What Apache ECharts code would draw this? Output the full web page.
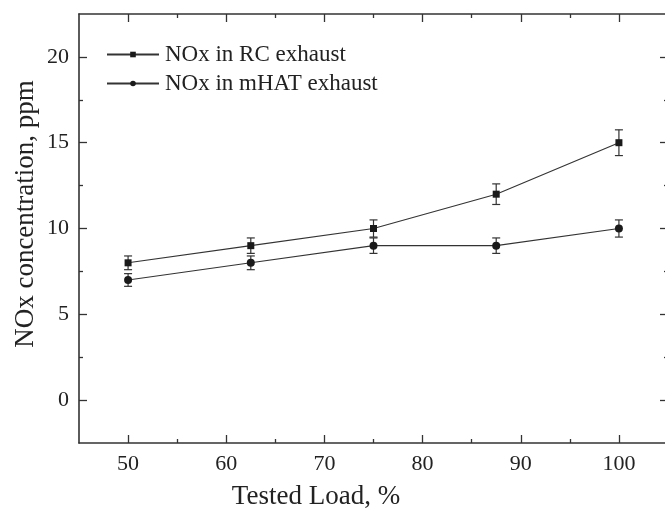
<!DOCTYPE html>
<html>
<head>
<meta charset="utf-8">
<script src="https://cdn.jsdelivr.net/npm/echarts@6/dist/echarts.min.js"></script>
<style>html,body{margin:0;padding:0;background:#fff;overflow:hidden;width:665px;height:518px}#c{width:670px;height:518px}</style>
</head>
<body>
<div id="c"></div>
<script>
const loads = [50, 62.5, 75, 87.5, 100];
const rcValues = [8, 9, 10, 12, 15];
const rcErrors = [0.4, 0.45, 0.5, 0.6, 0.75];
const mhatValues = [7, 8, 9, 9, 10];
const mhatErrors = [0.37, 0.4, 0.45, 0.45, 0.5];
const xTicks = [50, 60, 70, 80, 90, 100];
const xMinorTicks = [55, 65, 75, 85, 95];
const yTicks = [0, 5, 10, 15, 20];
const yMinorTicks = [2.5, 7.5, 12.5, 17.5];
const seriesNames = ['NOx in RC exhaust', 'NOx in mHAT exhaust'];
const xTitle = 'Tested Load, %';
const yTitle = 'NOx concentration, ppm';

const FONT = "'Liberation Serif', 'Times New Roman', serif";
const INK = '#222';
const AXLINE = { color: '#333', width: 1.6 };

function xAxisDef(pos, ticks, major, showLine, showLabels) {
  return {
    type: 'value', position: pos, min: 45, max: 105,
    axisLine: { show: showLine, onZero: false, lineStyle: AXLINE },
    axisTick: { show: true, inside: true, length: major ? 8 : 4, customValues: ticks, lineStyle: { color: '#333', width: 1.3 } },
    axisLabel: showLabels ? { show: true, customValues: ticks, fontFamily: FONT, fontSize: 22, color: INK, margin: 10 } : { show: false },
    splitLine: { show: false }
  };
}
function yAxisDef(pos, ticks, major, showLine, showLabels) {
  return {
    type: 'value', position: pos, min: -2.5, max: 22.5,
    axisLine: { show: showLine, onZero: false, lineStyle: AXLINE },
    axisTick: { show: true, inside: true, length: major ? 8 : 4, customValues: ticks, lineStyle: { color: '#333', width: 1.3 } },
    axisLabel: showLabels ? { show: true, customValues: ticks, fontFamily: FONT, fontSize: 22, color: INK, margin: 10 } : { show: false },
    splitLine: { show: false }
  };
}

function errData(vals, errs) {
  return loads.map((x, i) => [x, vals[i] - errs[i], vals[i] + errs[i]]);
}
function renderErr(params, api) {
  const x = api.value(0);
  const lo = api.coord([x, api.value(1)]);
  const hi = api.coord([x, api.value(2)]);
  const w = 4;
  const st = { stroke: '#333', lineWidth: 1.2 };
  return {
    type: 'group',
    children: [
      { type: 'line', shape: { x1: lo[0], y1: lo[1], x2: hi[0], y2: hi[1] }, style: st },
      { type: 'line', shape: { x1: lo[0] - w, y1: lo[1], x2: lo[0] + w, y2: lo[1] }, style: st },
      { type: 'line', shape: { x1: hi[0] - w, y1: hi[1], x2: hi[0] + w, y2: hi[1] }, style: st }
    ]
  };
}

const chart = echarts.init(document.getElementById('c'), null, { renderer: 'canvas' });
chart.setOption({
  backgroundColor: '#fff',
  animation: false,
  grid: { left: 79, right: 2, top: 14, bottom: 75, containLabel: false },
  legend: {
    data: seriesNames,
    orient: 'vertical',
    left: 101, top: 38,
    itemWidth: 52, itemHeight: 7, itemGap: 6,
    textStyle: { fontFamily: FONT, fontSize: 23, color: INK, padding: [0, 0, 0, 1] }
  },
  graphic: [
    {
      type: 'text', x: 316, y: 497, silent: true,
      style: { text: xTitle, font: "27px " + FONT, fill: INK, align: 'center', verticalAlign: 'middle' }
    },
    {
      type: 'text', x: 26, y: 214, rotation: Math.PI / 2, silent: true,
      style: { text: yTitle, font: "27px " + FONT, fill: INK, align: 'center', verticalAlign: 'middle' }
    }
  ],
  xAxis: [
    xAxisDef('bottom', xTicks, true, true, true),
    xAxisDef('bottom', xMinorTicks, false, false, false),
    xAxisDef('top', xTicks, true, true, false),
    xAxisDef('top', xMinorTicks, false, false, false)
  ],
  yAxis: [
    yAxisDef('left', yTicks, true, true, true),
    yAxisDef('left', yMinorTicks, false, false, false),
    yAxisDef('right', yTicks, true, true, false),
    yAxisDef('right', yMinorTicks, false, false, false)
  ],
  series: [
    {
      name: seriesNames[0], type: 'line', xAxisIndex: 0, yAxisIndex: 0,
      data: loads.map((x, i) => [x, rcValues[i]]),
      symbol: 'rect', symbolSize: 7, z: 5,
      lineStyle: { color: '#333', width: 1.1 },
      itemStyle: { color: '#1a1a1a' }
    },
    {
      name: seriesNames[1], type: 'line', xAxisIndex: 0, yAxisIndex: 0,
      data: loads.map((x, i) => [x, mhatValues[i]]),
      symbol: 'circle', symbolSize: 8, z: 5,
      lineStyle: { color: '#333', width: 1.1 },
      itemStyle: { color: '#1a1a1a' }
    },
    {
      type: 'custom', xAxisIndex: 0, yAxisIndex: 0, renderItem: renderErr,
      data: errData(rcValues, rcErrors), z: 4, silent: true
    },
    {
      type: 'custom', xAxisIndex: 0, yAxisIndex: 0, renderItem: renderErr,
      data: errData(mhatValues, mhatErrors), z: 4, silent: true
    }
  ]
});
</script>
</body>
</html>
